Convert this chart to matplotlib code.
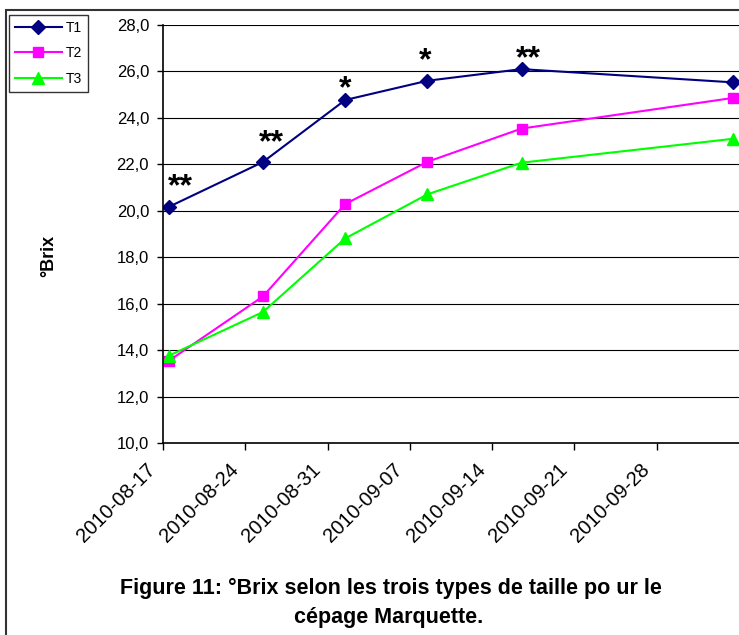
"""Brix evolution for three pruning types (Marquette), Excel-style line chart."""

import datetime as dt

import matplotlib

matplotlib.use("Agg")
import matplotlib.dates as mdates
import matplotlib.pyplot as plt
from matplotlib.patches import Rectangle
from matplotlib.transforms import ScaledTranslation

plt.rcParams["font.family"] = ["Liberation Sans", "DejaVu Sans"]

DATES = ["2010-08-17", "2010-08-25", "2010-09-01", "2010-09-08", "2010-09-16", "2010-10-04"]
T1 = [20.17, 22.10, 24.77, 25.60, 26.10, 25.53]
T2 = [13.54, 16.31, 20.29, 22.11, 23.54, 24.86]
T3 = [13.76, 15.64, 18.81, 20.71, 22.07, 23.10]
STARS = ["**", "**", "*", "*", "**", ""]
Y_TICKS = [10, 12, 14, 16, 18, 20, 22, 24, 26, 28]

NAVY = "#000080"
MAGENTA = "#FF00FF"
LIME = "#00FF00"

# label offsets (points) relative to each T1 marker
STAR_OFFSETS = [(8, 3.6), (6, 2.9), (0, -2.9), (-1.5, 2.9), (5, -3.6), (0, 0)]


def main() -> None:
    fig = plt.figure(figsize=(7.39, 6.35), dpi=100, facecolor="white")
    ax = fig.add_axes([163 / 739, 1 - 443 / 635, 1 - 163 / 739, (443 - 25) / 635])

    days = [mdates.date2num(dt.datetime.strptime(d, "%Y-%m-%d")) + 0.5 for d in DATES]
    start = mdates.date2num(dt.datetime.strptime(DATES[0], "%Y-%m-%d"))

    ax.plot(days, T1, color=NAVY, lw=1.5, marker="D", ms=7, label="T1")
    ax.plot(days, T2, color=MAGENTA, lw=1.5, marker="s", ms=7, label="T2")
    ax.plot(days, T3, color=LIME, lw=1.5, marker="^", ms=8, label="T3")

    for x, y, star, (ox, oy) in zip(days, T1, STARS, STAR_OFFSETS):
        if star:
            ax.annotate(star, (x, y), xytext=(ox, oy), textcoords="offset points",
                        ha="center", va="bottom", fontsize=23, fontweight="bold")

    ax.set_xlim(start, start + 49)
    ax.set_ylim(10, 28)
    ax.set_xticks([start + 7 * k for k in range(7)])
    ax.xaxis.set_major_formatter(mdates.DateFormatter("%Y-%m-%d"))
    ax.set_yticks(Y_TICKS)
    ax.set_yticklabels([f"{v:.1f}".replace(".", ",") for v in Y_TICKS])
    ax.tick_params(axis="y", labelsize=12, length=4, width=1, direction="out", pad=6)
    ax.tick_params(axis="x", labelsize=14.5, length=5, width=1, direction="out", pad=12)
    shift = ScaledTranslation(-10 / 100, 0, fig.dpi_scale_trans)
    for label in ax.get_xticklabels():
        label.set_rotation(45)
        label.set_ha("right")
        label.set_va("center")
        label.set_rotation_mode("anchor")
        label.set_transform(label.get_transform() + shift)

    ax.grid(True, axis="y", color="black", linewidth=0.8)
    ax.set_axisbelow(True)
    for side in ("top", "right"):
        ax.spines[side].set_visible(False)
    for side in ("left", "bottom"):
        ax.spines[side].set_linewidth(1.2)

    fig.text(49 / 739, 1 - 256 / 635, "°Brix", rotation=90, ha="center", va="center",
             fontsize=13, fontweight="bold")

    fig.legend(loc="upper left", bbox_to_anchor=(9 / 739, 1 - 15 / 635), fontsize=10,
               frameon=True, fancybox=False, edgecolor="black", handlelength=3.4,
               labelspacing=0.85, borderpad=0.4, handletextpad=0.3, borderaxespad=0)

    fig.text(391 / 739, 1 - 588 / 635,
             "Figure 11: °Brix selon les trois types de taille po ur le",
             ha="center", va="center", fontsize=15.5, fontweight="bold")
    fig.text(389 / 739, 1 - 617 / 635, "cépage Marquette.",
             ha="center", va="center", fontsize=15.5, fontweight="bold")

    fig.patches.append(Rectangle((6 / 739, -0.05), 1.2, 1.05 - 10 / 635,
                                 transform=fig.transFigure, fill=False,
                                 edgecolor="#333333", linewidth=1.5))

    fig.savefig("out.png", dpi=100, facecolor="white")
    plt.close(fig)


if __name__ == "__main__":
    main()
